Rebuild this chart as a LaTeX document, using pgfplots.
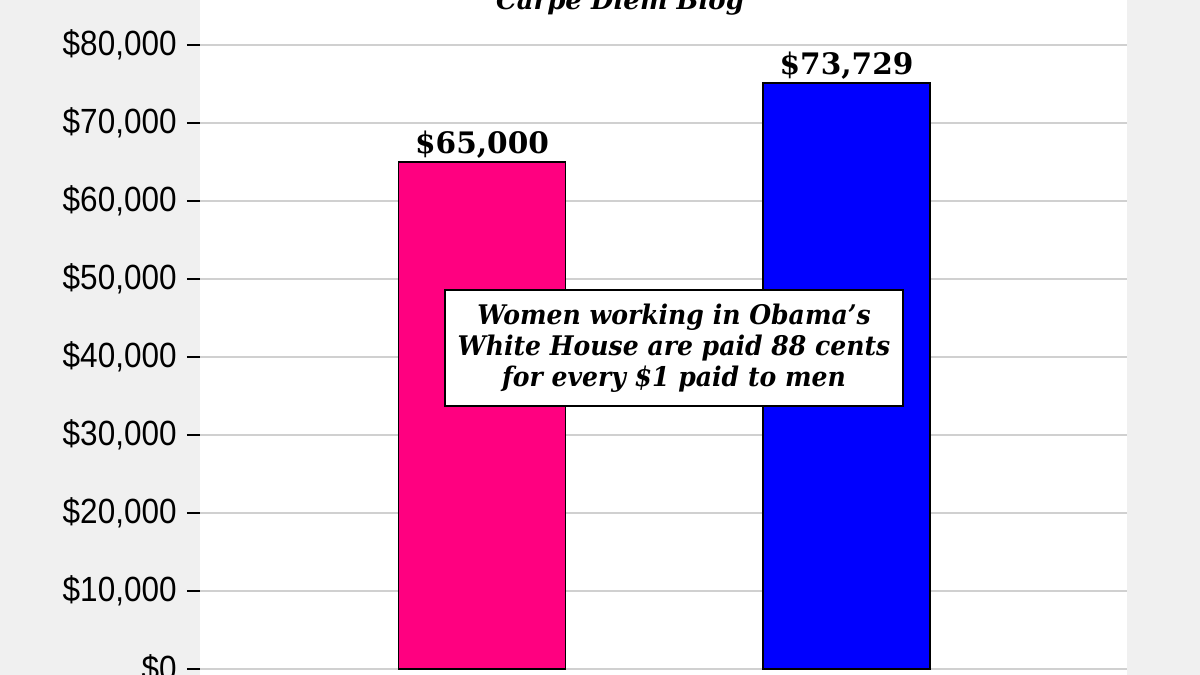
\documentclass[border=0pt]{standalone}
\usepackage{pgfplots}
\pgfplotsset{compat=1.18}
\usepackage{fontspec}
\setmainfont{DejaVu Serif}
\newfontfamily\tickfont[FakeStretch=0.9]{Liberation Sans}
\newfontfamily\georgia{DejaVu Serif}
\newfontfamily\georgianarrow[FakeStretch=0.93]{DejaVu Serif}
\definecolor{bggray}{HTML}{F0F0F0}
\definecolor{gridgray}{HTML}{D0D0D0}
\definecolor{barpink}{HTML}{FF0080}
\definecolor{barblue}{HTML}{0000FF}
\begin{document}
\begin{tikzpicture}
\useasboundingbox (-100bp,0) rectangle (500bp,337.5bp);
\fill[bggray] (-100bp,0) rectangle (500bp,337.5bp);
\begin{axis}[
  at={(0,0)}, anchor=south west,
  scale only axis, width=463.5bp, height=337.5bp,
  xmin=0.2263, xmax=2.7695, ymin=-770, ymax=85770,
  axis background/.style={fill=white},
  axis line style={draw=none},
  xtick=\empty,
  ytick={0,10000,20000,30000,40000,50000,60000,70000,80000},
  yticklabels={{\$0},{\$10,000},{\$20,000},{\$30,000},{\$40,000},{\$50,000},{\$60,000},{\$70,000},{\$80,000}},
  scaled y ticks=false,
  ytick pos=left,
  tick align=outside,
  major tick length=6.5bp,
  ytick style={draw=black, line width=1bp},
  ymajorgrids,
  major grid style={draw=gridgray, line width=1bp},
  yticklabel style={font=\tickfont\fontsize{17.5bp}{20bp}\selectfont, inner sep=0pt, xshift=-5bp},
  clip=false,
]
\addplot[ybar, bar shift=0pt, bar width=0.458, fill=barpink, draw=black, line width=0.75bp,
  nodes near coords={\$65,000},
  nodes near coords style={font=\georgia\bfseries\fontsize{14.8bp}{18bp}\selectfont, anchor=south, inner sep=1.5bp, text=black}]
  coordinates {(1,65000)};
\addplot[ybar, bar shift=0pt, bar width=0.458, fill=barblue, draw=black, line width=0.75bp,
  nodes near coords={\$73,729},
  nodes near coords style={font=\georgia\bfseries\fontsize{14.8bp}{18bp}\selectfont, anchor=south, inner sep=1.5bp, text=black}]
  coordinates {(2,75100)};
\node[anchor=base, font=\georgia\bfseries\itshape\fontsize{13bp}{15bp}\selectfont] at (axis cs:1.3786,84490) {Carpe Diem Blog};
\node[draw=black, fill=white, line width=0.75bp, minimum width=229bp, minimum height=58bp, align=center,
  font=\georgianarrow\bfseries\itshape\fontsize{13.5bp}{15.5bp}\selectfont, inner sep=0pt]
  at (axis cs:1.5267,41150) {Women working in Obama’s\\White House are paid 88 cents\\for every \$1 paid to men};
\end{axis}
\end{tikzpicture}
\end{document}
